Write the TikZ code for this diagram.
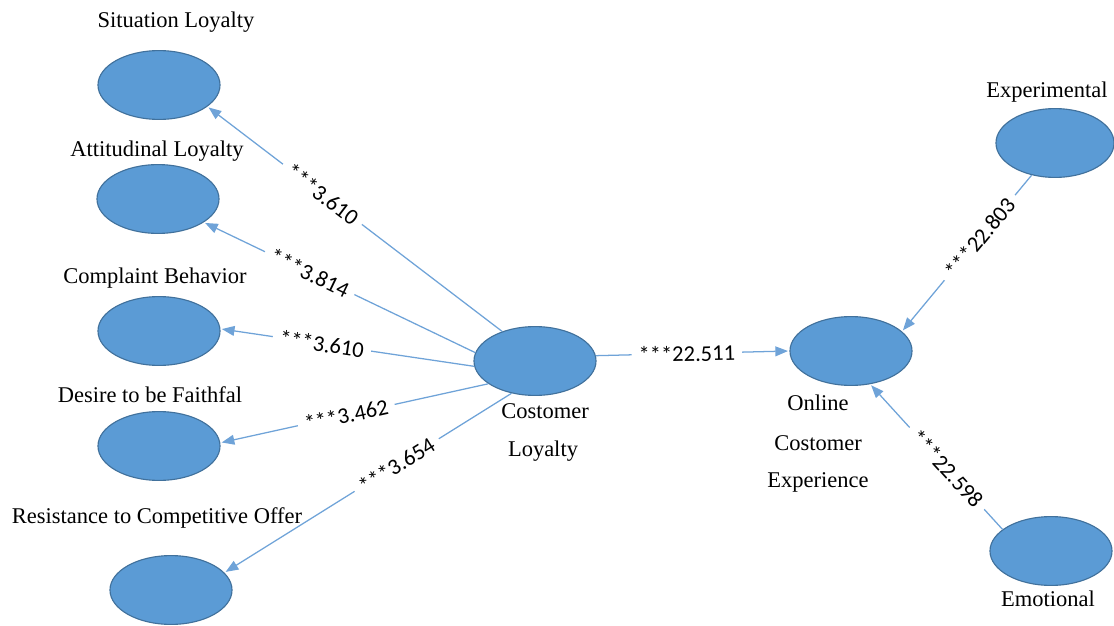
\documentclass[tikz,border=0pt]{standalone}
\usepackage{fontspec}
\setmainfont{Liberation Serif}
\newfontfamily\numfont{Carlito}
\usetikzlibrary{arrows.meta,shapes.geometric}

\definecolor{fillblue}{HTML}{5B9BD5}
\definecolor{edgeblue}{HTML}{41719C}
\definecolor{lineblue}{HTML}{6FA3D8}

\tikzset{
	lv/.style={ellipse, draw=edgeblue, fill=fillblue, line width=0.8pt,
		minimum width=3.05cm, minimum height=1.72cm, inner sep=0pt},
	lbl/.style={font=\fontsize{16}{18}\selectfont, inner sep=1pt},
	path/.style={draw=lineblue, line width=0.9pt,
		-{Triangle[length=9pt,width=7pt]}, shorten >=1pt},
	coef/.style={font=\numfont\fontsize{16}{18}\selectfont, sloped,
		fill=white, inner sep=5pt}
}

\begin{document}
\begin{tikzpicture}[x=0.025cm,y=-0.025cm]

	\useasboundingbox (0,0) rectangle (1114,626);

	% latent variables
	\node[lv] (sl) at (159,85) {};
	\node[lv] (al) at (158,199) {};
	\node[lv] (cb) at (159,331) {};
	\node[lv] (df) at (159,446) {};
	\node[lv] (rc) at (171,590) {};
	\node[lv] (cl) at (535,361) {};
	\node[lv] (oe) at (851,351) {};
	\node[lv, minimum width=2.95cm] (ex) at (1055,143) {};
	\node[lv] (em) at (1051,551) {};

	% names
	\node[lbl] (tsl) at (176,22) {Situation Loyalty};
	\node[lbl] (tal) at (157,151) {Attitudinal Loyalty};
	\node[lbl] (tcb) at (155,278) {Complaint Behavior};
	\node[lbl] (tdf) at (150,395) {Desire to be Faithfal};
	\node[lbl] (trc) at (157,518) {Resistance to Competitive Offer};
	\node[lbl] (tcl1) at (545,411) {Costomer};
	\node[lbl] (tcl2) at (543,451) {Loyalty};
	\node[lbl] (toe1) at (818,403) {Online};
	\node[lbl] (toe2) at (818,443) {Costomer};
	\node[lbl] (toe3) at (818,482) {Experience};
	\node[lbl] (tex) at (1047,92) {Experimental};
	\node[lbl] (tem) at (1048,599) {Emotional};

	% paths
	\draw[path] (cl.138) -- (sl.336) node[coef, pos=0.61] {***3.610};
	\draw[path] (cl.172) -- (al.333) node[coef, pos=0.61] {***3.814};
	\draw[path] (cl.185) -- (cb.2) node[coef, pos=0.6] {***3.610};
	\draw[path] (cl.206) -- (df.3) node[coef, pos=0.53] {***3.462};
	\draw[path] (cl.234) -- (rc.18) node[coef, pos=0.4] {***3.654};
	\draw[path] (cl.5) -- (oe.180) node[coef, pos=0.47] {***22.511};
	\draw[path] (ex.234) -- (oe.21) node[coef, pos=0.4] {***22.803};
	\draw[path] (em.156) -- (oe.300) node[coef, pos=0.42] {***22.598};

\end{tikzpicture}
\end{document}
